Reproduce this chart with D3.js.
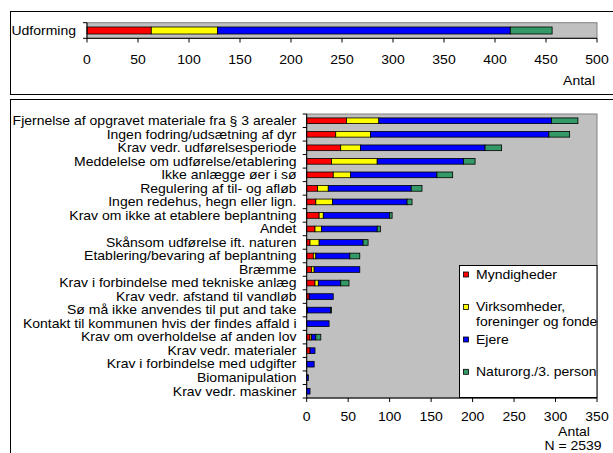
<!DOCTYPE html>
<html><head><meta charset="utf-8">
<script src="https://cdn.jsdelivr.net/npm/d3@7/dist/d3.min.js"></script>
<style>body{margin:0;background:#fff;overflow:hidden}svg{display:block}text{font-family:"Liberation Sans",Arial,sans-serif;fill:#000}</style>
</head><body>
<script>
const seriesNames = ["Myndigheder", "Virksomheder,\nforeninger og fonde", "Ejere", "Naturorg./3. person"];
const colors = ["#FF0000", "#FFFF00", "#0000FF", "#339966"];

const topCategory = ["Udforming"];
const topValues = [[63], [65], [287], [41]];
const topTicks = [0, 50, 100, 150, 200, 250, 300, 350, 400, 450, 500];

const categories = [
  "Fjernelse af opgravet materiale fra § 3 arealer",
  "Ingen fodring/udsætning af dyr",
  "Krav vedr. udførelsesperiode",
  "Meddelelse om udførelse/etablering",
  "Ikke anlægge øer i sø",
  "Regulering af til- og afløb",
  "Ingen redehus, hegn eller lign.",
  "Krav om ikke at etablere beplantning",
  "Andet",
  "Skånsom udførelse ift. naturen",
  "Etablering/bevaring af beplantning",
  "Bræmme",
  "Krav i forbindelse med tekniske anlæg",
  "Krav vedr. afstand til vandløb",
  "Sø må ikke anvendes til put and take",
  "Kontakt til kommunen hvis der findes affald i",
  "Krav om overholdelse af anden lov",
  "Krav vedr. materialer",
  "Krav i forbindelse med udgifter",
  "Biomanipulation",
  "Krav vedr. maskiner"
];
const myndigheder  = [48, 35, 41, 30, 32, 13, 11, 15, 10, 4, 8, 6, 10, 3, 1, 0, 4, 4, 0, 0, 0];
const virksomheder = [39, 42, 24, 55, 21, 13, 20, 5, 8, 11, 3, 3, 4, 0, 0, 0, 2, 0, 0, 0, 0];
const ejere        = [208, 215, 150, 104, 104, 100, 90, 80, 67, 53, 41, 55, 27, 29, 28, 27, 5, 6, 9, 2, 4];
const naturorg     = [32, 25, 20, 14, 19, 13, 6, 3, 4, 6, 12, 0, 10, 0, 1, 0, 6, 0, 0, 0, 0];
const bottomTicks = [0, 50, 100, 150, 200, 250, 300, 350];
const xTitle = "Antal";
const nNote = "N = 2539";

const W = 613, H = 453;
const svg = d3.select("body").append("svg").attr("width", W).attr("height", H);
const FS = 12.5, SX = 1.12;

function txt(g, x, y, s, anchor) {
  return g.append("text")
    .attr("transform", `translate(${x},${y}) scale(${SX},1)`)
    .attr("text-anchor", anchor || "start")
    .attr("font-size", FS)
    .text(s);
}

function stackRows(cats, seriesArr) {
  return cats.map((c, i) => {
    let acc = 0;
    return seriesArr.map((s, k) => { const v = s[i]; const r = {cat: c, k, x0: acc, x1: acc + v, v}; acc += v; return r; });
  });
}

// ---------- Frames (right/bottom edges fall outside the picture) ----------
svg.append("rect").attr("x", 10.5).attr("y", 11.5).attr("width", 610).attr("height", 83)
  .attr("fill", "none").attr("stroke", "#000").attr("stroke-width", 1);
svg.append("rect").attr("x", 10.5).attr("y", 99.5).attr("width", 610).attr("height", 360)
  .attr("fill", "none").attr("stroke", "#000").attr("stroke-width", 1);

// ---------- Top chart ----------
{
  const g = svg.append("g");
  const x = d3.scaleLinear().domain([0, 500]).range([87, 597]);
  const y = d3.scaleBand().domain(topCategory).range([22.7, 38.3]).paddingInner(0.55).paddingOuter(0.275);
  g.append("rect").attr("x", x(0)).attr("y", 22.7).attr("width", x(500) - x(0)).attr("height", 38.3 - 22.7)
    .attr("fill", "#C0C0C0").attr("stroke", "#808080").attr("stroke-width", 1);
  const rows = stackRows(topCategory, topValues.map(a => a));
  rows.forEach(r => r.forEach(seg => {
    if (seg.v <= 0) return;
    g.append("rect").attr("x", x(seg.x0)).attr("y", y(seg.cat)).attr("width", x(seg.x1) - x(seg.x0))
      .attr("height", y.bandwidth()).attr("fill", colors[seg.k]).attr("stroke", "#000").attr("stroke-width", 0.8);
  }));
  g.append("line").attr("x1", x(0)).attr("x2", x(0)).attr("y1", 22.7).attr("y2", 38.3).attr("stroke", "#000");
  [22.7, 38.3].forEach(v => g.append("line").attr("x1", x(0) - 4).attr("x2", x(0)).attr("y1", v).attr("y2", v).attr("stroke", "#000"));
  g.append("line").attr("x1", x(0)).attr("x2", x(500)).attr("y1", 38.3).attr("y2", 38.3).attr("stroke", "#000");
  topTicks.forEach(t => {
    g.append("line").attr("x1", x(t)).attr("x2", x(t)).attr("y1", 38.3).attr("y2", 42.5).attr("stroke", "#000");
    txt(g, x(t), 63.5, t, "middle");
  });
  txt(g, 76, 35, topCategory[0], "end");
  txt(g, 595, 85, xTitle, "end");
}

// ---------- Bottom chart ----------
{
  const g = svg.append("g");
  const x0 = 306.7, x1 = 597, yT = 114, yB = 398;
  const x = d3.scaleLinear().domain([0, 350]).range([x0, x1]);
  const y = d3.scaleBand().domain(categories).range([yT, yB]).paddingInner(0.58).paddingOuter(0.29);
  const step = (yB - yT) / categories.length;
  g.append("rect").attr("x", x0).attr("y", yT).attr("width", x1 - x0).attr("height", yB - yT)
    .attr("fill", "#C0C0C0").attr("stroke", "#808080").attr("stroke-width", 1);
  const rows = stackRows(categories, [myndigheder, virksomheder, ejere, naturorg]);
  rows.forEach(r => r.forEach(seg => {
    if (seg.v <= 0) return;
    g.append("rect").attr("x", x(seg.x0)).attr("y", y(seg.cat)).attr("width", x(seg.x1) - x(seg.x0))
      .attr("height", y.bandwidth()).attr("fill", colors[seg.k]).attr("stroke", "#000").attr("stroke-width", 0.8);
  }));
  g.append("line").attr("x1", x0).attr("x2", x0).attr("y1", yT).attr("y2", yB).attr("stroke", "#000");
  d3.range(categories.length + 1).forEach(i => {
    const yy = yT + i * step;
    g.append("line").attr("x1", x0 - 4).attr("x2", x0).attr("y1", yy).attr("y2", yy).attr("stroke", "#000");
  });
  g.append("line").attr("x1", x0).attr("x2", x1).attr("y1", yB).attr("y2", yB).attr("stroke", "#000");
  bottomTicks.forEach(t => {
    g.append("line").attr("x1", x(t)).attr("x2", x(t)).attr("y1", yB).attr("y2", yB + 4).attr("stroke", "#000");
    txt(g, x(t), 420.5, t, "middle");
  });
  categories.forEach(c => txt(g, 296.5, y(c) + y.bandwidth() / 2 + 4.3, c, "end"));
  txt(g, 574, 435.5, xTitle, "middle");
  txt(g, 573, 450, nNote, "middle");

  // Legend
  const lg = g.append("g");
  lg.append("rect").attr("x", 459.5).attr("y", 265.5).attr("width", 137.5).attr("height", 132)
    .attr("fill", "#fff").attr("stroke", "#000").attr("stroke-width", 1);
  const ly = [274.5, 307, 339.5, 371.8];
  seriesNames.forEach((n, k) => {
    lg.append("rect").attr("x", 463.5).attr("y", ly[k] - 2.5).attr("width", 5).attr("height", 5)
      .attr("fill", colors[k]).attr("stroke", "#000").attr("stroke-width", 0.8);
    n.split("\n").forEach((line, j) => txt(lg, 476, ly[k] + 4.3 + j * 14.5, line, "start"));
  });
}
</script>
</body></html>
